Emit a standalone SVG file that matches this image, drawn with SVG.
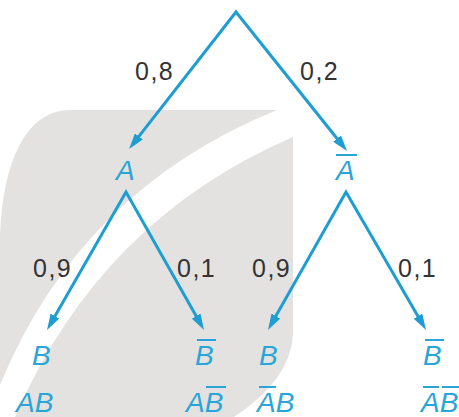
<svg xmlns="http://www.w3.org/2000/svg" width="459" height="417" viewBox="0 0 459 417">
<style>
.bg{fill:#e4e2e1}
.edge{fill:none;stroke:#1e9dd2;stroke-width:3;stroke-linejoin:miter;marker-start:url(#ah);marker-end:url(#ah)}
.ev{font-family:"Liberation Sans",Arial,sans-serif;font-style:italic;font-size:28px;fill:#2aa5d8}
.pr{font-family:"Liberation Sans",Arial,sans-serif;font-size:25px;fill:#333;letter-spacing:1.5px}
.bar{stroke:#2aa5d8;stroke-width:2}
</style>
<defs>
<marker id="ah" markerUnits="userSpaceOnUse" markerWidth="17" markerHeight="10" refX="6" refY="5" orient="auto-start-reverse">
<path d="M0,0 L16,5 L0,10 z" fill="#1e9dd2"/>
</marker>
</defs>
<g id="watermark">
<path class="bg" d="M70,110 L277,110 Q80,190 0,385 L0,250 C0,165 25,110 70,110 Z"/>
<path class="bg" d="M293,137 L293,335 Q290,380 234,417 L15,417 Q100,220 293,137 Z"/>
</g>
<g id="connectors">
<path class="edge" d="M135.2,141.1 L236,12 L340.8,143.2"/>
<path class="edge" d="M52,321.3 L126,192 L199.1,321.3"/>
<path class="edge" d="M272.9,321.3 L346,192 L421,321.4"/>
</g>
<g id="labels">
<text class="pr" x="135" y="80">0,8</text>
<text class="pr" x="300" y="80">0,2</text>
<text class="pr" x="33" y="277">0,9</text>
<text class="pr" x="177" y="277">0,1</text>
<text class="pr" x="252" y="277">0,9</text>
<text class="pr" x="398" y="277">0,1</text>
</g>
<g id="node-A"><text class="ev" x="116" y="180">A</text></g>
<g id="node-notA"><text class="ev" x="336" y="180">A</text><line class="bar" x1="336" y1="155" x2="357" y2="155"/></g>
<g id="node-AB"><text class="ev" x="32" y="365">B</text><text class="ev" x="16" y="412">AB</text></g>
<g id="node-AnotB"><text class="ev" x="195" y="365">B</text><line class="bar" x1="197" y1="340" x2="216" y2="340"/><text class="ev" x="186" y="412">AB</text><line class="bar" x1="206" y1="387" x2="226" y2="387"/></g>
<g id="node-notAB"><text class="ev" x="259" y="365">B</text><text class="ev" x="257" y="412">AB</text><line class="bar" x1="259" y1="387" x2="276" y2="387"/></g>
<g id="node-notAnotB"><text class="ev" x="423" y="365">B</text><line class="bar" x1="425" y1="340" x2="444" y2="340"/><text class="ev" x="421" y="412">AB</text><line class="bar" x1="423" y1="387" x2="439" y2="387"/><line class="bar" x1="442" y1="387" x2="459" y2="387"/></g>
</svg>
